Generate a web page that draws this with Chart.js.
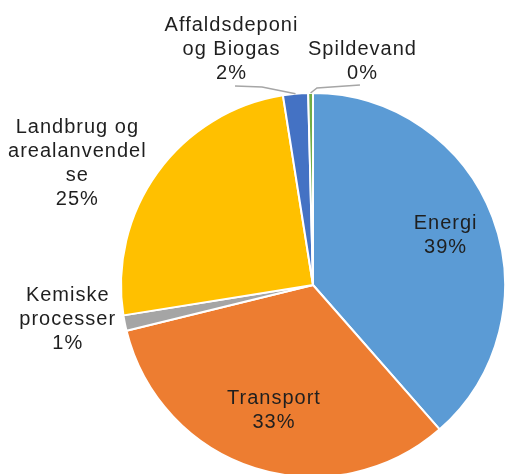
<!DOCTYPE html>
<html>
<head>
<meta charset="utf-8">
<script src="https://cdn.jsdelivr.net/npm/chart.js@4.4.1/dist/chart.umd.min.js"></script>
<style>
html,body{margin:0;padding:0;background:#fff;overflow:hidden;}
#wrap{width:507px;height:474px;position:relative;}
</style>
</head>
<body>
<div id="wrap"><canvas id="c" width="507" height="474"></canvas></div>
<script>
// ---- data ----
const categories = [
  ['Energi'],
  ['Transport'],
  ['Kemiske', 'processer'],
  ['Landbrug og', 'arealanvendel', 'se'],
  ['Affaldsdeponi', 'og Biogas'],
  ['Spildevand']
];
const values = [38.5, 32.6, 1.3, 25.0, 2.1, 0.4];
const colors = ['#5B9BD5', '#ED7D31', '#A5A5A5', '#FFC000', '#4472C4', '#70AD47'];

// ---- label layout (styles/positions, not data) ----
// inside: k = fraction of radius along mid angle
// outside: fx, fy = offset of label centre from pie centre in radii
const labelLayout = [
  {inside: true, k: 0.735},
  {inside: true, k: 0.685},
  {inside: false, fx: -1.28, fy: 0.18},
  {inside: false, fx: -1.23, fy: -0.632},
  {inside: false, fx: -0.427, fy: -1.227, leader: [[4, 36.5], [31, 37.5]]},
  {inside: false, fx: 0.255, fy: -1.164, leader: [[-2, 23.5], [-45, 26.5]]}
];

const total = values.reduce((a, b) => a + b, 0);
const pctLabels = values.map(v => Math.round(v / total * 100) + '%');

const labelPlugin = {
  id: 'pieLabels',
  afterDatasetsDraw(chart) {
    const ctx = chart.ctx;
    const meta = chart.getDatasetMeta(0);
    ctx.save();
    ctx.font = '20px "Liberation Sans", Arial, sans-serif';
    ctx.fillStyle = '#1f1f1f';
    ctx.textAlign = 'center';
    ctx.textBaseline = 'middle';
    try { ctx.letterSpacing = '1px'; } catch (e) {}
    const lineH = 24;
    meta.data.forEach((arc, i) => {
      const p = arc.getProps(['x', 'y', 'startAngle', 'endAngle', 'outerRadius'], true);
      const mid = (p.startAngle + p.endAngle) / 2;
      const L = labelLayout[i];
      let lx, ly;
      if (L.inside) {
        lx = p.x + Math.cos(mid) * p.outerRadius * L.k;
        ly = p.y + Math.sin(mid) * p.outerRadius * L.k;
      } else {
        lx = p.x + L.fx * p.outerRadius;
        ly = p.y + L.fy * p.outerRadius;
      }
      const lines = categories[i].concat([pctLabels[i]]);
      const y0 = ly - (lines.length - 1) * lineH / 2;
      lines.forEach((t, j) => ctx.fillText(t, lx + 0.5, y0 + j * lineH));
      if (L.leader) {
        const ex = p.x + Math.cos(mid) * p.outerRadius;
        const ey = p.y + Math.sin(mid) * p.outerRadius;
        ctx.beginPath();
        ctx.strokeStyle = '#A6A6A6';
        ctx.lineWidth = 1.5;
        ctx.moveTo(lx + L.leader[0][0], ly + L.leader[0][1]);
        ctx.lineTo(lx + L.leader[1][0], ly + L.leader[1][1]);
        ctx.lineTo(ex, ey);
        ctx.stroke();
      }
    });
    ctx.restore();
  }
};

new Chart(document.getElementById('c'), {
  type: 'pie',
  data: {
    labels: categories.map(c => c.join(' ')),
    datasets: [{
      data: values,
      backgroundColor: colors,
      borderColor: '#ffffff',
      borderWidth: 2,
      hoverOffset: 0
    }]
  },
  options: {
    responsive: false,
    animation: false,
    radius: 192,
    layout: {padding: {left: 119, right: 0, top: 96, bottom: 0}},
    plugins: {legend: {display: false}, tooltip: {enabled: false}}
  },
  plugins: [labelPlugin]
});
</script>
</body>
</html>
